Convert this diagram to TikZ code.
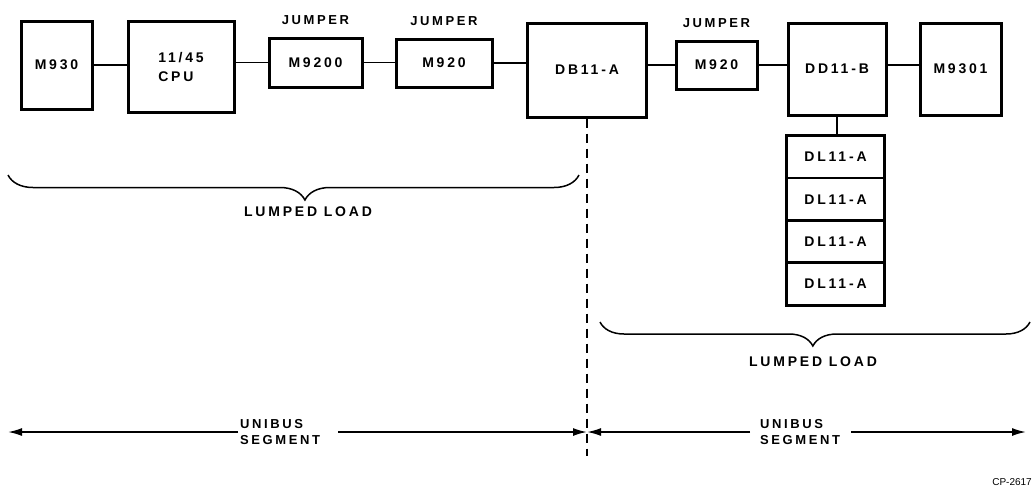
\documentclass[tikz,border=0pt]{standalone}
\usepackage{fontspec}
\setmainfont{Liberation Sans}
\newfontfamily\boardfont[LetterSpace=20]{Liberation Sans}
\usetikzlibrary{positioning,calc,arrows.meta,decorations.pathreplacing}

\begin{document}
\begin{tikzpicture}[x=1pt, y=-1pt,
    every node/.style={font=\boardfont\bfseries\fontsize{14}{19}\selectfont},
    board/.style={draw, line width=3pt, inner sep=0pt, align=center},
    slot/.style={draw, line width=1.3pt, minimum width=97pt, minimum height=41pt, inner sep=0pt},
    tag/.style={inner sep=0pt, font=\boardfont\bfseries\fontsize{13}{16}\selectfont},
    wire/.style={line width=1.4pt},
    load/.style={line width=1.5pt, decorate, decoration={brace, mirror, amplitude=25pt}},
    bus/.style={line width=1.7pt, -{Latex[length=14pt, width=8pt]}}]
    \useasboundingbox (0,0) rectangle (1033,496);

    % Unibus boards, left to right
    \node[board, minimum width=71pt, minimum height=88pt] (m930) at (56.5,65) {M930};
    \node[board, minimum width=106pt, minimum height=91pt, align=left] (cpu) at (181,66.5) {11/45\\CPU};
    \node[board, minimum width=93pt, minimum height=49pt] (m9200) at (315.5,62.5) {M9200};
    \node[board, minimum width=96pt, minimum height=48pt] (m920a) at (444,63) {M920};
    \node[board, minimum width=119pt, minimum height=94pt] (db11) at (587,70) {DB11-A};
    \node[board, minimum width=81pt, minimum height=48pt] (m920b) at (716.5,65) {M920};
    \node[board, minimum width=98pt, minimum height=92pt] (dd11) at (837,69) {DD11-B};
    \node[board, minimum width=81pt, minimum height=92pt] (m9301) at (960.5,69) {M9301};

    % Jumper labels
    \node[tag, above=12pt of m9200] (jmpa) {JUMPER};
    \node[tag, above=12pt of m920a] (jmpb) {JUMPER};
    \node[tag, above=12pt of m920b] (jmpc) {JUMPER};

    % DL11-A stack under DD11-B
    \node[slot] (dl1) at (835.5,157) {DL11-A};
    \node[slot, below=0pt of dl1] (dl2) {DL11-A};
    \node[slot, below=0pt of dl2] (dl3) {DL11-A};
    \node[slot, below=0pt of dl3] (dl4) {DL11-A};
    \draw[line width=3pt] (dl1.north west) rectangle (dl4.south east);

    % Bus connections
    \draw[wire] (m930.east) -- (m930.east -| cpu.west);
    \draw[wire] (cpu.east |- m9200.west) -- (m9200.west);
    \draw[wire] (m9200.east) -- (m9200.east -| m920a.west);
    \draw[wire] (m920a.east) -- (m920a.east -| db11.west);
    \draw[wire] (db11.east |- m920b.west) -- (m920b.west);
    \draw[wire] (m920b.east) -- (m920b.east -| dd11.west);
    \draw[wire] (dd11.east |- m920b.east) -- (m9301.west |- m920b.east);
    \draw[wire] (dd11.south) -- (dd11.south |- dl1.north);

    % Segment boundary
    \draw[line width=1.6pt, dash pattern=on 9pt off 6pt] (db11.south) -- (db11.south |- 0,456);

    % Lumped loads
    \coordinate (lla) at (8,175);
    \coordinate (llb) at (579,175);
    \coordinate (lra) at (600,322);
    \coordinate (lrb) at (1030,322);
    \draw[load, decoration={aspect=0.52}] (lla) -- (llb);
    \draw[load, decoration={aspect=0.495, amplitude=24pt}] (lra) -- (lrb);
    \node (lumpl) at (308,212) {LUMPED LOAD};
    \node (lumpr) at (813,362) {LUMPED LOAD};

    % Unibus segments
    \coordinate (split) at (db11.south |- 0,432);
    \coordinate (busl) at (8,432);
    \coordinate (busr) at (1026,432);
    \node[tag, anchor=west, align=left] (segl) at (240,432) {UNIBUS\\SEGMENT};
    \node[tag, anchor=west, align=left] (segr) at (760,432) {UNIBUS\\SEGMENT};
    \draw[bus] ([xshift=-2pt]segl.west) -- (busl);
    \draw[bus] ([xshift=18pt]segl.east) -- (split);
    \draw[bus] ([xshift=-10pt]segr.west) -- (split);
    \draw[bus] ([xshift=11pt]segr.east) -- (busr);

    \node[font=\fontsize{10}{12}\selectfont, inner sep=0pt, anchor=east] (cpno) at (1032,482) {CP-2617};
\end{tikzpicture}
\end{document}
